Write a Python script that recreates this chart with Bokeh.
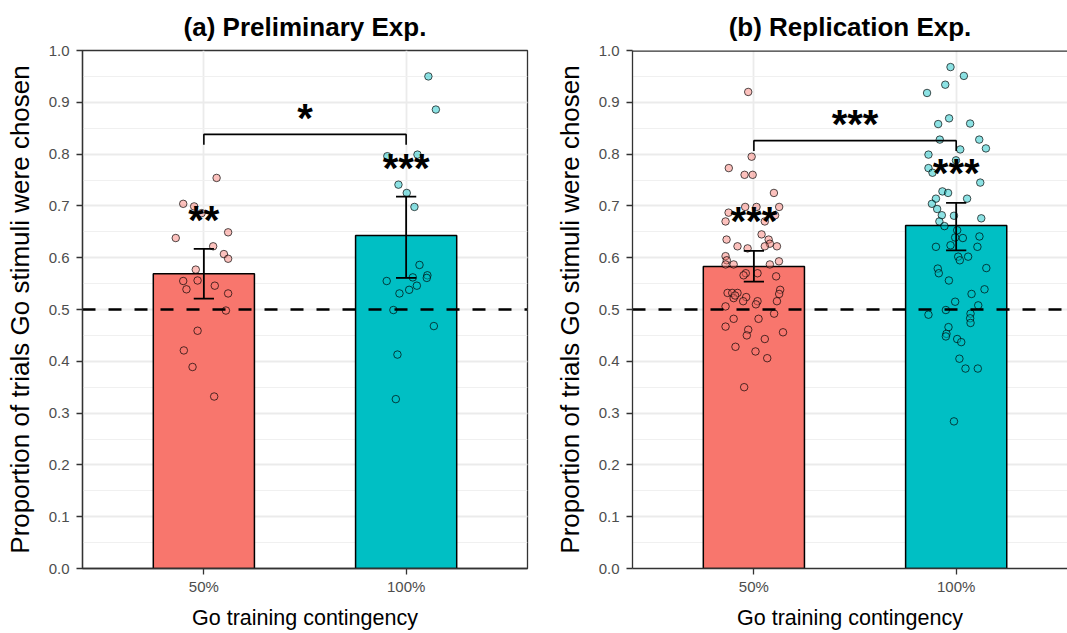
from bokeh.plotting import figure
from bokeh.layouts import row
from bokeh.models import (Range1d, FixedTicker, SingleIntervalTicker, PrintfTickFormatter,
                          ColumnDataSource)
from bokeh.core.properties import value
from bokeh.embed import file_html
from bokeh.resources import INLINE

FONT = "Liberation Sans"

# ---------------- data ----------------
categories = ["50%", "100%"]
cat_pos = [1, 2]
bar_colors = ["#F8766D", "#00BFC4"]

# (a) Preliminary experiment
a_means = [0.569, 0.643]
a_err_low = [0.521, 0.561]
a_err_high = [0.617, 0.718]
a_vals_50 = [0.754, 0.704, 0.699, 0.686, 0.649, 0.638, 0.622, 0.607, 0.598, 0.577,
             0.555, 0.556, 0.539, 0.546, 0.531, 0.498, 0.459, 0.421, 0.389, 0.332]
a_jit_50 = [0.063, -0.102, -0.048, -0.011, 0.120, -0.139, 0.046, 0.099, 0.120, -0.040,
            -0.102, -0.031, -0.086, 0.054, 0.120, 0.109, -0.031, -0.099, -0.056, 0.051]
a_vals_100 = [0.950, 0.886, 0.796, 0.799, 0.741, 0.725, 0.698, 0.586, 0.555, 0.562,
              0.566, 0.561, 0.546, 0.538, 0.531, 0.499, 0.468, 0.413, 0.327]
a_jit_100 = [0.110, 0.147, -0.093, 0.056, -0.038, 0.003, 0.041, 0.066, -0.096, 0.033,
             0.105, 0.102, 0.053, 0.015, -0.033, -0.063, 0.137, -0.043, -0.051]
a_star_labels = ["**", "***", "*"]
a_star_x = [1, 2, 1.5]
a_star_y = [0.672, 0.773, 0.869]
a_bracket = [0.838, 0.818]

# (b) Replication experiment
b_means = [0.583, 0.662]
b_err_low = [0.554, 0.614]
b_err_high = [0.613, 0.706]
b_vals_50 = [0.920, 0.795, 0.773, 0.760, 0.760, 0.725, 0.698, 0.698, 0.698, 0.687,
             0.682, 0.670, 0.670, 0.645, 0.635, 0.635, 0.627, 0.622, 0.622, 0.618,
             0.622, 0.603, 0.595, 0.587, 0.587, 0.593, 0.587, 0.570, 0.566, 0.570,
             0.564, 0.532, 0.532, 0.532, 0.522, 0.527, 0.538, 0.530, 0.516, 0.524,
             0.516, 0.516, 0.510, 0.506, 0.492, 0.482, 0.482, 0.467, 0.461, 0.450,
             0.443, 0.456, 0.428, 0.419, 0.406, 0.350]
b_jit_50 = [-0.028, -0.011, -0.124, -0.046, -0.006, 0.099, -0.043, 0.013, 0.125, -0.125,
            0.105, -0.140, 0.054, 0.038, -0.135, 0.073, 0.079, 0.114, -0.081, -0.031,
            0.054, -0.140, -0.134, -0.100, -0.140, 0.124, 0.079, -0.040, -0.051, 0.018,
            0.110, -0.130, -0.107, -0.081, -0.100, -0.093, 0.130, 0.125, 0.114, -0.038,
            -0.053, 0.018, 0.010, -0.140, 0.100, -0.100, 0.023, -0.140, -0.028, -0.035,
            0.054, 0.144, -0.091, 0.008, 0.066, -0.048]
b_vals_100 = [0.968, 0.951, 0.934, 0.918, 0.869, 0.858, 0.859, 0.828, 0.828, 0.811,
              0.809, 0.799, 0.788, 0.773, 0.764, 0.745, 0.728, 0.725, 0.714, 0.714,
              0.704, 0.694, 0.682, 0.681, 0.676, 0.670, 0.661, 0.653, 0.639, 0.638,
              0.641, 0.621, 0.624, 0.621, 0.602, 0.595, 0.602, 0.579, 0.570, 0.580,
              0.556, 0.539, 0.530, 0.515, 0.508, 0.499, 0.490, 0.492, 0.483, 0.474,
              0.466, 0.453, 0.448, 0.443, 0.437, 0.405, 0.386, 0.386, 0.284]
b_jit_100 = [-0.028, 0.038, -0.054, -0.144, -0.035, -0.089, 0.069, -0.081, 0.114, 0.147,
             0.020, -0.137, -0.001, -0.137, -0.117, 0.119, -0.068, -0.040, 0.054, -0.100,
             -0.120, -0.094, -0.071, -0.011, 0.124, -0.083, -0.058, 0.005, -0.005, 0.033,
             0.115, -0.100, -0.028, 0.105, 0.010, 0.018, 0.059, -0.091, -0.086, 0.149,
             -0.036, 0.140, 0.076, -0.005, 0.109, -0.051, -0.137, 0.071, 0.069, 0.071,
             -0.038, -0.048, -0.051, 0.005, 0.025, 0.016, 0.046, 0.107, -0.011]
b_star_labels = ["***", "***", "***"]
b_star_x = [1, 2, 1.5]
b_star_y = [0.670, 0.763, 0.858]
b_bracket = [0.826, 0.806]

chance_level = 0.5
y_ticks_interval = 0.1


def make_panel(title, means, lo, hi, pts, jits, star_labels, star_x, star_y,
               bracket, x_end, frame_w, mb_left, mb_right, outline):
    p = figure(frame_width=frame_w, frame_height=518,
               x_range=Range1d(0.4, x_end), y_range=Range1d(0.0, 1.0),
               output_backend="svg", toolbar_location=None,
               min_border_left=mb_left, min_border_right=mb_right,
               min_border_top=50, min_border_bottom=64,
               background_fill_color="white", border_fill_color="white")
    p.title.text = title
    p.title.align = "center"
    p.title.text_font = FONT
    p.title.text_font_size = "26px"
    p.title.text_font_style = "bold"
    p.title.text_color = "black"
    p.title.standoff = 18

    if outline:
        p.outline_line_color = "#333333"
        p.outline_line_width = 1.3
    else:
        p.outline_line_color = None

    # axes
    p.yaxis.ticker = SingleIntervalTicker(interval=y_ticks_interval, num_minor_ticks=2)
    p.yaxis.formatter = PrintfTickFormatter(format="%.1f")
    p.xaxis.ticker = FixedTicker(ticks=cat_pos)
    p.xaxis.major_label_overrides = {c: lab for c, lab in zip(cat_pos, categories)}
    p.xaxis.axis_label = "Go training contingency"
    p.yaxis.axis_label = "Proportion of trials Go stimuli were chosen"
    for ax in (p.xaxis, p.yaxis):
        ax.axis_label_text_font = FONT
        ax.axis_label_text_font_style = "normal"
        ax.axis_label_text_color = "black"
        ax.major_label_text_font = FONT
        ax.major_label_text_font_size = "15px"
        ax.major_label_text_color = "#4D4D4D"
        ax.axis_line_color = "#333333"
        ax.axis_line_width = 1.3
        ax.major_tick_line_color = "#333333"
        ax.major_tick_line_width = 1.3
        ax.major_tick_out = 6
        ax.major_tick_in = 0
        ax.minor_tick_line_color = None
    p.xaxis.axis_label_text_font_size = "21.5px"
    p.yaxis.axis_label_text_font_size = "26px"
    p.yaxis.major_label_standoff = 7
    p.xaxis.major_label_standoff = 3
    p.yaxis.axis_label_standoff = 11
    p.xaxis.axis_label_standoff = 8

    # grids
    p.ygrid.ticker = SingleIntervalTicker(interval=y_ticks_interval, num_minor_ticks=2)
    p.ygrid.grid_line_color = "#EBEBEB"
    p.ygrid.grid_line_width = 1.8
    p.ygrid.minor_grid_line_color = "#F0F0F0"
    p.ygrid.minor_grid_line_width = 1.0
    p.xgrid.ticker = FixedTicker(ticks=cat_pos)
    p.xgrid.grid_line_color = "#EBEBEB"
    p.xgrid.grid_line_width = 1.8

    if not outline:
        # top border of the panel (right edge falls outside the picture)
        p.line([0.4, x_end], [1.0, 1.0], line_color="#333333", line_width=2.6)

    # bars
    src = ColumnDataSource(dict(x=cat_pos, top=means, color=bar_colors))
    p.vbar(x="x", top="top", bottom=0, width=0.5, fill_color="color",
           line_color="black", line_width=1.5, source=src)

    # jittered individual points
    for cpos, col, vals, jit in zip(cat_pos, bar_colors, pts, jits):
        xs = [cpos + j for j in jit]
        p.scatter(xs, vals, size=7.5, fill_color=col, fill_alpha=0.45,
                  line_color="black", line_width=0.8, line_alpha=0.85)

    # error bars
    p.segment(x0=cat_pos, y0=lo, x1=cat_pos, y1=hi, line_color="black", line_width=1.8)
    p.segment(x0=[c - 0.05 for c in cat_pos], y0=lo, x1=[c + 0.05 for c in cat_pos], y1=lo,
              line_color="black", line_width=1.8)
    p.segment(x0=[c - 0.05 for c in cat_pos], y0=hi, x1=[c + 0.05 for c in cat_pos], y1=hi,
              line_color="black", line_width=1.8)

    # chance line
    p.line([0.4, 2.7], [chance_level, chance_level], line_color="black",
           line_width=2.6, line_dash="13 13")

    # comparison bracket
    p.line([cat_pos[0], cat_pos[0], cat_pos[1], cat_pos[1]],
           [bracket[1], bracket[0], bracket[0], bracket[1]],
           line_color="black", line_width=1.6)

    # significance stars
    p.text(x=star_x, y=star_y, text=star_labels, text_align="center",
           text_baseline="alphabetic", text_font=value(FONT),
           text_font_size="40px", text_font_style="bold", text_color="black")
    return p


p1 = make_panel("(a) Preliminary Exp.", a_means, a_err_low, a_err_high,
                [a_vals_50, a_vals_100], [a_jit_50, a_jit_100],
                a_star_labels, a_star_x, a_star_y, a_bracket,
                2.6, 445, 82, 18, True)
p2 = make_panel("(b) Replication Exp.", b_means, b_err_low, b_err_high,
                [b_vals_50, b_vals_100], [b_jit_50, b_jit_100],
                b_star_labels, b_star_x, b_star_y, b_bracket,
                0.4 + 435 / 202.3, 435, 87, 0, False)

layout = row(p1, p2, spacing=0)
open("out.html", "w").write(file_html(layout, INLINE))
